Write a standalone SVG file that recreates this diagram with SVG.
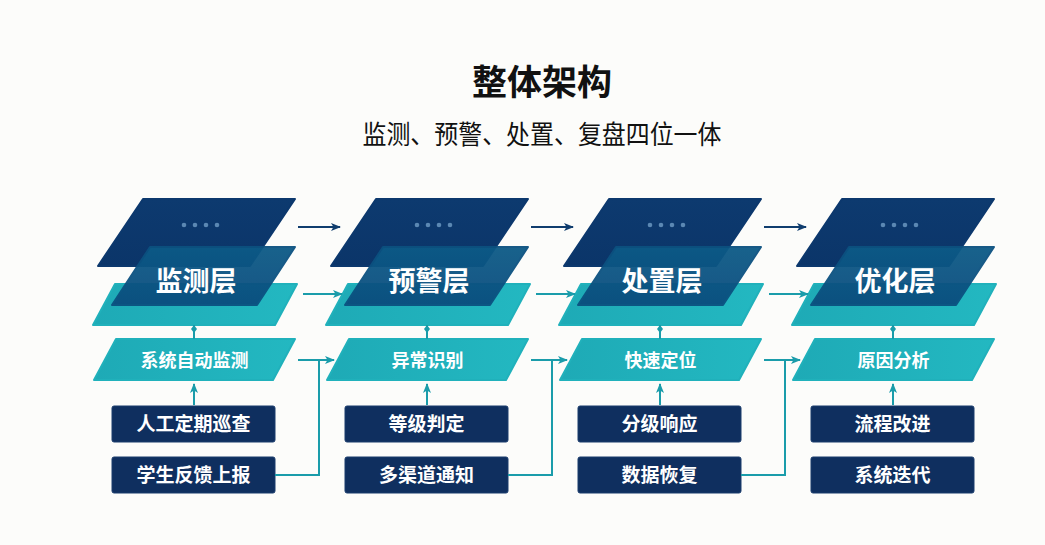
<svg xmlns="http://www.w3.org/2000/svg" width="1045" height="545" viewBox="0 0 1045 545">
  <defs>
    <linearGradient id="gDark" x1="0" y1="0" x2="0" y2="1">
      <stop offset="0" stop-color="#0d3a6f"/>
      <stop offset="1" stop-color="#0b3569"/>
    </linearGradient>
    <linearGradient id="gMid" x1="0" y1="0" x2="0" y2="1">
      <stop offset="0" stop-color="#0c5a87"/>
      <stop offset="1" stop-color="#0a4c7d"/>
    </linearGradient>
    <linearGradient id="gTeal" x1="0" y1="0" x2="1" y2="0">
      <stop offset="0" stop-color="#1eaab6"/>
      <stop offset="1" stop-color="#23b8c1"/>
    </linearGradient>
    <marker id="arrNavy" markerWidth="10" markerHeight="10" refX="9" refY="5" orient="auto" markerUnits="userSpaceOnUse">
      <path d="M0,1 L10,5 L0,9 L2.5,5 z" fill="#103d6e"/>
    </marker>
    <marker id="arrTeal" markerWidth="10" markerHeight="10" refX="9" refY="5" orient="auto" markerUnits="userSpaceOnUse">
      <path d="M0,1 L10,5 L0,9 L2.5,5 z" fill="#1a9caa"/>
    </marker>
  </defs>
  <style>
    .dark{fill:url(#gDark);stroke:#0c386d;stroke-width:2;stroke-linejoin:round}
    .mid{fill:url(#gMid);stroke:#0b5180;stroke-width:2;stroke-linejoin:round;opacity:0.95}
    .teal{fill:url(#gTeal);stroke:#20b1bb;stroke-width:2;stroke-linejoin:round}
    .box{fill:#0f2f5f;stroke:#1b3d6d;stroke-width:1}
    .dot{fill:#5b88b3}
    .t{font-family:"Noto Sans CJK SC","Noto Sans",sans-serif;fill:#ffffff;text-anchor:middle;font-weight:bold}
    .layer{font-size:27px}
    .sub{font-size:18px}
    .lbl{font-size:19px}
    .cn{fill:none;stroke-width:2}
    .navy{stroke:#103d6e}
    .tl{stroke:#1a9caa}
    .head{font-family:"Noto Sans CJK SC","Noto Sans",sans-serif;fill:#111111;text-anchor:middle}
    .h1{font-size:35px;font-weight:bold}
    .h2{font-size:26px;font-weight:normal}
  </style>
  <rect x="0" y="0" width="1045" height="545" fill="#fcfcfa"/>

  <g id="title">
    <text class="head h1" x="542" y="95">整体架构</text>
    <text class="head h2" x="542" y="144" textLength="359" lengthAdjust="spacingAndGlyphs">监测、预警、处置、复盘四位一体</text>
  </g>

  <!-- Column 1 -->
  <g id="layer-monitor">
    <polygon class="dark" points="143,199 295,199 250,266 98,266"/>
    <polygon class="teal" points="115,284 297,284 275,325 93,325"/>
    <polygon class="mid" points="150,247 295,247 257,305 112,305"/>
    <circle class="dot" cx="184" cy="225" r="2.3"/><circle class="dot" cx="195" cy="225" r="2.3"/><circle class="dot" cx="206" cy="225" r="2.3"/><circle class="dot" cx="217" cy="225" r="2.3"/>
    <text class="t layer" x="196" y="291">监测层</text>
  </g>
  <g id="node-auto-monitor">
    <polygon class="teal" points="116,339 295,339 273,380 94,380"/>
    <text class="t sub" x="194.5" y="367">系统自动监测</text>
  </g>
  <g id="node-manual-patrol">
    <rect class="box" x="112" y="406" width="163" height="36" rx="2"/>
    <text class="t lbl" x="193.5" y="431">人工定期巡查</text>
  </g>
  <g id="node-student-report">
    <rect class="box" x="112" y="457" width="163" height="36" rx="2"/>
    <text class="t lbl" x="193.5" y="482">学生反馈上报</text>
  </g>

  <!-- Column 2 -->
  <g id="layer-warning" transform="translate(233,0)">
    <polygon class="dark" points="143,199 295,199 250,266 98,266"/>
    <polygon class="teal" points="115,284 297,284 275,325 93,325"/>
    <polygon class="mid" points="150,247 295,247 257,305 112,305"/>
    <circle class="dot" cx="184" cy="225" r="2.3"/><circle class="dot" cx="195" cy="225" r="2.3"/><circle class="dot" cx="206" cy="225" r="2.3"/><circle class="dot" cx="217" cy="225" r="2.3"/>
    <text class="t layer" x="196" y="291">预警层</text>
  </g>
  <g id="node-anomaly" transform="translate(233,0)">
    <polygon class="teal" points="116,339 295,339 273,380 94,380"/>
    <text class="t sub" x="194.5" y="367">异常识别</text>
  </g>
  <g id="node-grading" transform="translate(233,0)">
    <rect class="box" x="112" y="406" width="163" height="36" rx="2"/>
    <text class="t lbl" x="193.5" y="431">等级判定</text>
  </g>
  <g id="node-notify" transform="translate(233,0)">
    <rect class="box" x="112" y="457" width="163" height="36" rx="2"/>
    <text class="t lbl" x="193.5" y="482">多渠道通知</text>
  </g>

  <!-- Column 3 -->
  <g id="layer-handling" transform="translate(466,0)">
    <polygon class="dark" points="143,199 295,199 250,266 98,266"/>
    <polygon class="teal" points="115,284 297,284 275,325 93,325"/>
    <polygon class="mid" points="150,247 295,247 257,305 112,305"/>
    <circle class="dot" cx="184" cy="225" r="2.3"/><circle class="dot" cx="195" cy="225" r="2.3"/><circle class="dot" cx="206" cy="225" r="2.3"/><circle class="dot" cx="217" cy="225" r="2.3"/>
    <text class="t layer" x="196" y="291">处置层</text>
  </g>
  <g id="node-locate" transform="translate(466,0)">
    <polygon class="teal" points="116,339 295,339 273,380 94,380"/>
    <text class="t sub" x="194.5" y="367">快速定位</text>
  </g>
  <g id="node-response" transform="translate(466,0)">
    <rect class="box" x="112" y="406" width="163" height="36" rx="2"/>
    <text class="t lbl" x="193.5" y="431">分级响应</text>
  </g>
  <g id="node-recovery" transform="translate(466,0)">
    <rect class="box" x="112" y="457" width="163" height="36" rx="2"/>
    <text class="t lbl" x="193.5" y="482">数据恢复</text>
  </g>

  <!-- Column 4 -->
  <g id="layer-optimize" transform="translate(699,0)">
    <polygon class="dark" points="143,199 295,199 250,266 98,266"/>
    <polygon class="teal" points="115,284 297,284 275,325 93,325"/>
    <polygon class="mid" points="150,247 295,247 257,305 112,305"/>
    <circle class="dot" cx="184" cy="225" r="2.3"/><circle class="dot" cx="195" cy="225" r="2.3"/><circle class="dot" cx="206" cy="225" r="2.3"/><circle class="dot" cx="217" cy="225" r="2.3"/>
    <text class="t layer" x="196" y="291">优化层</text>
  </g>
  <g id="node-cause" transform="translate(699,0)">
    <polygon class="teal" points="116,339 295,339 273,380 94,380"/>
    <text class="t sub" x="194.5" y="367">原因分析</text>
  </g>
  <g id="node-process" transform="translate(699,0)">
    <rect class="box" x="112" y="406" width="163" height="36" rx="2"/>
    <text class="t lbl" x="193.5" y="431">流程改进</text>
  </g>
  <g id="node-iterate" transform="translate(699,0)">
    <rect class="box" x="112" y="457" width="163" height="36" rx="2"/>
    <text class="t lbl" x="193.5" y="482">系统迭代</text>
  </g>

  <g id="connectors">
    <path class="cn navy" d="M298,227 H340" marker-end="url(#arrNavy)"/>
    <path class="cn navy" d="M531,227 H573" marker-end="url(#arrNavy)"/>
    <path class="cn navy" d="M764,227 H806" marker-end="url(#arrNavy)"/>
    <path class="cn tl" d="M303,294 H342" marker-end="url(#arrTeal)"/>
    <path class="cn tl" d="M536,294 H575" marker-end="url(#arrTeal)"/>
    <path class="cn tl" d="M769,294 H808" marker-end="url(#arrTeal)"/>
    <path class="cn tl" d="M298,360 H334" marker-end="url(#arrTeal)"/>
    <path class="cn tl" d="M275,475 H319 V360"/>
    <path class="cn tl" d="M531,360 H567" marker-end="url(#arrTeal)"/>
    <path class="cn tl" d="M508,475 H552 V360"/>
    <path class="cn tl" d="M764,360 H800" marker-end="url(#arrTeal)"/>
    <path class="cn tl" d="M741,475 H785 V360"/>
    <path class="cn tl" d="M194,325 V339"/><path d="M194,325 l3,4 l-3,4 l-3,-4 z" fill="#1a9caa"/>
    <path class="cn tl" d="M427,325 V339"/><path d="M427,325 l3,4 l-3,4 l-3,-4 z" fill="#1a9caa"/>
    <path class="cn tl" d="M660,325 V339"/><path d="M660,325 l3,4 l-3,4 l-3,-4 z" fill="#1a9caa"/>
    <path class="cn tl" d="M893,325 V339"/><path d="M893,325 l3,4 l-3,4 l-3,-4 z" fill="#1a9caa"/>
    <path class="cn tl" d="M194,405 V384" marker-end="url(#arrTeal)"/>
    <path class="cn tl" d="M427,405 V384" marker-end="url(#arrTeal)"/>
    <path class="cn tl" d="M660,405 V384" marker-end="url(#arrTeal)"/>
    <path class="cn tl" d="M893,405 V384" marker-end="url(#arrTeal)"/>
  </g>
</svg>
